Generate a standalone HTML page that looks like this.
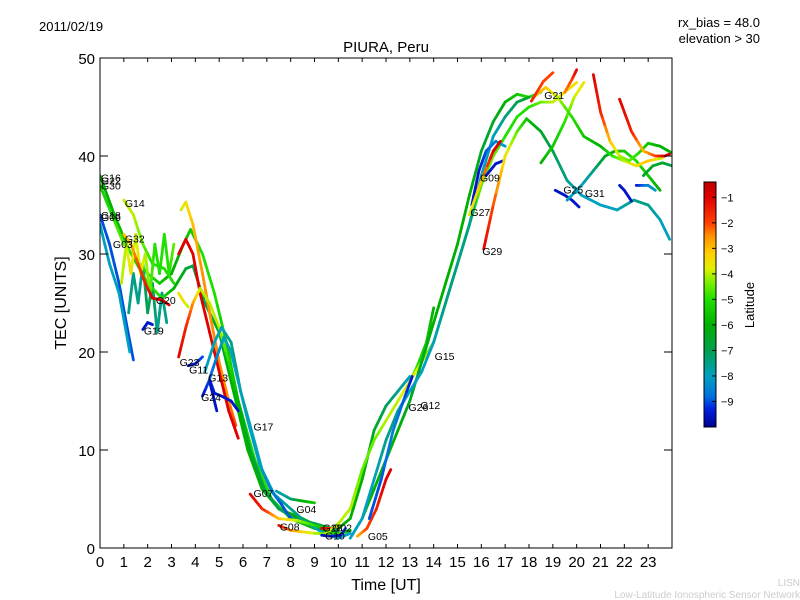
<!DOCTYPE html>
<html><head><meta charset="utf-8"><style>
body{margin:0;background:#fff;}
svg{display:block;font-family:"Liberation Sans","DejaVu Sans",sans-serif;}
</style></head><body>
<svg id="chart" width="800" height="600" viewBox="0 0 800 600">
<defs>
<linearGradient id="jetg" x1="0" y1="0" x2="0" y2="1">
<stop offset="0" stop-color="#c00000"/><stop offset="0.0625" stop-color="#e00000"/><stop offset="0.167" stop-color="#ff4000"/>
<stop offset="0.219" stop-color="#ff9000"/><stop offset="0.292" stop-color="#ffd000"/><stop offset="0.354" stop-color="#e0f000"/>
<stop offset="0.406" stop-color="#80f000"/><stop offset="0.479" stop-color="#20e000"/><stop offset="0.583" stop-color="#00b000"/>
<stop offset="0.688" stop-color="#00a050"/><stop offset="0.792" stop-color="#00a0c0"/><stop offset="0.875" stop-color="#0070e0"/>
<stop offset="0.927" stop-color="#0020e0"/><stop offset="1" stop-color="#000090"/>
</linearGradient>
<clipPath id="pc"><rect x="100" y="58" width="572" height="490"/></clipPath>
</defs>
<rect x="0" y="0" width="800" height="600" fill="#fff"/>
<text x="39" y="31" font-size="13">2011/02/19</text>
<text x="760" y="27" font-size="13" text-anchor="end">rx_bias = 48.0</text>
<text x="760" y="43" font-size="13" text-anchor="end">elevation &gt; 30</text>
<text x="386" y="52" font-size="15" text-anchor="middle">PIURA, Peru</text>
<g id="marks" clip-path="url(#pc)"></g>
<g id="labels"></g>
<rect x="100" y="58" width="572" height="490" fill="none" stroke="#000" stroke-width="1"/>
<g id="axes"></g>
<text x="386" y="590" font-size="16" text-anchor="middle">Time [UT]</text>
<text x="66" y="303" font-size="16" text-anchor="middle" transform="rotate(-90 66 303)">TEC [UNITS]</text>
<g>
<rect x="704" y="182" width="12" height="245" fill="url(#jetg)" stroke="#000" stroke-width="1"/>
<g id="cbticks"></g>
<text x="754" y="305" font-size="13" text-anchor="middle" transform="rotate(-90 754 305)">Latitude</text>
</g>
<text x="800" y="586" font-size="10" fill="#ccc" text-anchor="end">LISN</text>
<text x="800" y="598" font-size="10" fill="#ccc" text-anchor="end">Low-Latitude Ionospheric Sensor Network</text>
</svg>
<script>
const xTicks=[0,1,2,3,4,5,6,7,8,9,10,11,12,13,14,15,16,17,18,19,20,21,22,23];
const yTicks=[0,10,20,30,40,50];
const cbTicks=[-1,-2,-3,-4,-5,-6,-7,-8,-9];
const latMin=-10, latMax=-0.4;
// colormap stops [latitude, r, g, b]
const cmapLat=[-10,-9.3,-8.8,-8,-7,-6,-5,-4.3,-3.8,-3.2,-2.5,-2,-1,-0.4];
const cmapRGB=[[0,0,144],[0,32,224],[0,112,224],[0,160,192],[0,160,80],[0,176,0],[32,224,0],[128,240,0],[224,240,0],[255,208,0],[255,144,0],[255,64,0],[224,0,0],[192,0,0]];
// tracks: arrays of [hour, TEC, latitude]
const trackG16=[[0,38,-6],[0.6,34,-6],[1.2,30.5,-5.5],[2,27,-5],[2.6,25.5,-5],[3.1,26.5,-6],[3.6,28.5,-6.5],[3.9,28.8,-7],[4.4,25,-7],[5,22,-6.5],[5.6,16,-6],[6.2,10,-6],[6.8,6,-6],[7.5,4,-6],[8.5,3,-6],[9.3,2,-6]];
const trackG30=[[0,37,-5.5],[0.5,34,-5],[1,31,-4.5],[1.5,29.5,-5],[2,28,-5],[2.5,27,-5.5],[3,28,-6],[3.5,31,-6],[3.8,32.5,-5.5],[4.3,30,-5],[4.8,26,-5],[5.3,21,-5.5],[5.8,15,-5.5],[6.5,9,-5],[7.2,5,-5],[8,3,-5.5],[9,2,-6],[10,1.5,-6]];
const trackYellow=[[3.4,34.5,-4],[3.6,35.3,-3.5],[3.9,33,-3],[4.3,28,-2.5],[4.6,24,-2.5],[5,19,-2.5],[5.4,15,-2.5],[5.7,12.5,-2]];
const trackRed=[[3.3,30,-1],[3.6,31.5,-1],[3.9,30,-1],[4.2,26,-1],[4.6,22,-1],[5,18,-1],[5.4,14,-1],[5.8,11.2,-1]];
const trackG23=[[3.3,19.5,-1],[3.6,22.5,-1.5],[3.9,25,-2.5],[4.2,26.5,-4],[4.6,25,-4],[5,22.5,-4],[5.4,19,-5],[5.8,15,-6],[6.3,10,-6.5],[6.9,6,-7],[7.5,4,-7],[8.2,3,-7],[9,2.5,-7],[10,1.8,-7]];
const trackG06=[[0,34,-9],[0.4,31,-9],[0.8,27,-9],[1.1,23,-9],[1.4,19.2,-9]];
const trackCyan0=[[0,33,-8],[0.4,29,-8],[0.8,26,-8],[1.1,22,-8],[1.25,20,-8]];
const trackG14=[[1,35.5,-4],[1.4,34,-4],[1.8,31,-4.5],[2.2,29,-5],[2.7,28.5,-5],[3.1,27,-5]];
const trackG32=[[1,32,-3],[1.3,31,-3],[1.6,29,-2],[1.9,27,-1.5],[2.2,25.5,-1],[2.6,25.3,-1],[2.9,24.8,-1]];
const trackNoisy1=[[0.9,27,-4],[1.1,31,-4],[1.3,28,-3.5],[1.5,32,-4],[1.7,28,-3.5],[1.9,30,-4],[2.1,26,-4.5],[2.3,31,-5],[2.5,28,-5],[2.7,32,-5],[2.9,28,-5],[3.1,31,-4.5]];
const trackNoisy2=[[1.2,24,-7.5],[1.4,28,-7.5],[1.6,25,-7.5],[1.8,29,-7.5],[2,24,-7],[2.2,27,-7],[2.4,22,-7.5],[2.6,26,-7.5],[2.8,23,-7.5]];
const trackG20=[[3.3,26,-3.5],[3.5,25.2,-3.5],[3.7,24.6,-4]];
const trackG19=[[1.8,22.3,-9.5],[2,23,-9.5],[2.2,22.8,-9.5]];
const trackG11=[[3.7,18.6,-9.5],[4,18.8,-9.5],[4.3,19.5,-9]];
const trackG13=[[4.6,17.3,-9],[4.9,19.5,-8.5],[5.2,21.5,-8],[5.5,20,-8],[5.8,17,-8],[6.2,13,-8],[6.7,8.5,-8],[7.2,5.8,-8.5],[7.6,4.5,-9],[8,3,-9]];
const trackG24=[[4.3,15.5,-9.5],[4.6,17.2,-9],[4.8,15.8,-9.5],[5.1,15.5,-9.5],[5.5,15,-9.5],[5.8,14,-9.5]];
const trackG24b=[[4.6,17,-9.5],[4.8,15,-9.5],[4.9,14,-9.5]];
const trackCyanMid=[[4.4,18,-8],[4.8,21,-8],[5.1,22.5,-8],[5.5,21,-7.5],[5.9,16,-7],[6.3,12.5,-8],[6.8,8,-8],[7.3,5.5,-8],[8,4,-7.5],[8.7,2.5,-7.5],[9.4,1.5,-8],[10,1,-8],[10.5,1.5,-8]];
const trackG07=[[6.3,5.5,-1],[6.8,4,-1.5],[7.5,3,-3],[8.3,2.8,-4],[9,2.3,-5],[9.6,2,-6]];
const trackG04=[[7.4,5.8,-8],[8,5,-7.5],[8.5,4.8,-6],[9,4.6,-5.5]];
const trackG08=[[7.5,2.3,-1],[8,1.8,-2.5],[9,1.5,-4],[10,1.4,-5],[10.5,1.8,-6]];
const trackG28=[[9.3,2,-1],[9.7,2,-1.5],[10,2.3,-2.5]];
const trackG10=[[9.3,1.3,-9.5],[9.7,1.2,-9.5],[10.1,1.3,-9.5],[10.3,2,-9]];
const trackRise1=[[10,2,-6],[10.5,3,-6],[11,7,-6],[11.5,12,-6.5],[12,14.5,-7],[12.5,16,-7.5],[13,17.5,-8]];
const trackG15=[[12.9,16.5,-4],[13.3,18.5,-5],[13.7,21,-5.5],[14,24.5,-6]];
const trackRise2=[[9.5,1.5,-4],[10,2.5,-4],[10.5,4,-4],[11,8,-4.5],[11.5,11,-4.5],[12,13,-4],[12.5,15,-4],[13,17,-3.5],[13.5,19,-4],[14,21,-4.5],[14.5,25,-5],[15,29,-5],[15.5,33,-5],[16,37,-4.5],[16.5,40,-4.5],[17,42,-5],[17.5,44,-5],[18,45,-5],[18.5,45.5,-4.5],[19,45.5,-4],[19.5,46.5,-3.5],[20,47.5,-3.5]];
const trackG21=[[11,3,-6],[11.5,6,-6],[12,9,-6],[12.5,12,-6],[13,15,-6.5],[13.5,19,-6.5],[14,23,-6],[14.5,27,-6],[15,31,-6],[15.5,36,-6],[16,40.5,-6.5],[16.5,43.5,-6.5],[17,45.5,-6],[17.5,46.3,-5.5],[18,46,-5],[18.5,46.5,-5]];
const trackCyanRise=[[10.5,1,-8],[11,3,-8],[11.5,7,-8],[12,11,-7.5],[12.5,14,-7.5],[13,16,-8],[13.5,18,-8],[14,21,-8],[14.5,25,-7.5],[15,29,-7.5],[15.5,33,-7.5],[16,38,-8],[16.5,42,-8],[17,44,-7.5],[17.5,45.5,-7],[18,46,-6.5]];
const trackG05=[[10.8,1.2,-3],[11.2,2,-2],[11.6,4,-1.5],[12,7,-1],[12.2,8,-1]];
const trackG26=[[11.3,3,-9],[11.8,7,-9],[12.3,12,-8.5],[12.8,15.5,-9],[13.1,17.5,-9.5]];
const trackG09=[[15.6,35,-9.5],[15.9,38.5,-9.5],[16.2,40.5,-9],[16.6,41.5,-8.5],[17,41,-8]];
const trackG09b=[[16.2,38,-9.5],[16.6,39.2,-9.5],[16.9,39.5,-9.5]];
const trackG29=[[16.1,30.5,-1],[16.5,35,-2],[17,40,-3.5],[17.5,42.5,-4.5],[17.9,43.8,-5.5],[18.5,42.5,-6.5],[19,40.5,-7],[19.6,37.5,-7.5],[20.2,36,-8],[21,35,-8],[21.7,34.5,-8],[22.4,35.5,-7.5],[23,35,-7.5],[23.5,33.5,-8],[23.9,31.5,-8]];
const trackG27=[[15.5,34,-4],[16,37.5,-3],[16.5,40.5,-1],[16.8,41.5,-1]];
const trackG25=[[19.1,36.5,-9.5],[19.5,36,-9.5],[19.8,35.5,-9.5],[20.1,34.8,-9.5]];
const trackG31=[[19.6,35.5,-8],[20.2,37,-8],[20.7,38.5,-7.5],[21.2,40,-6.5],[21.6,40.5,-6],[22,40.5,-5.5],[22.5,39.5,-5],[23,38,-5.5],[23.5,36.5,-6]];
const trackRiseYG=[[18.5,39.3,-6],[19,41,-5.5],[19.5,43.5,-5],[19.9,46,-4],[20.3,47.5,-3.5]];
const trackRedTop1=[[20.7,48.3,-1],[21,44.5,-1.5],[21.4,41.5,-3],[21.8,40,-4],[22.2,39.5,-4.5],[22.6,40.3,-5],[23,41.3,-5.5],[23.5,41,-6],[24,40.3,-6]];
const trackRedTop2=[[21.8,45.8,-1],[22.3,42.5,-1.5],[22.8,40.5,-3],[23.3,40,-2],[23.7,40,-1],[23.9,40.2,-1]];
const trackYellowTop=[[18.2,46,-3],[18.7,47,-3],[19.2,46,-4],[19.8,44,-5],[20.3,42,-5.5],[21,41,-6],[21.5,40,-5],[22,39.5,-4],[22.5,39,-3.5],[23,39.5,-3],[23.6,39.8,-4]];
const trackRedPeak=[[18.1,45.6,-1.5],[18.6,47.6,-2],[19,48.5,-2]];
const trackRedPeak2=[[19.5,46.5,-2.5],[19.8,47.8,-2],[20,48.8,-1]];
const trackBlueLate=[[21.8,37,-9.5],[22,36.5,-9.5],[22.3,35.4,-9.5]];
const trackBlueLate2=[[22.5,37,-9.5],[23,37,-8.5],[23.3,36.5,-8]];
const trackGreenLate=[[22.8,38,-6.5],[23.2,39,-6.5],[23.6,39.3,-6.5],[24,39,-7]];
const tracks=[trackG06,trackCyan0,trackNoisy2,trackG16,trackG30,trackG14,trackNoisy1,trackG32,trackYellow,trackRed,trackG23,trackG20,trackG19,trackG11,trackCyanMid,trackG13,trackG24,trackG24b,trackG07,trackG04,trackG08,trackG28,trackG10,trackRise1,trackG15,trackRise2,trackG21,trackCyanRise,trackG05,trackG26,trackG09,trackG09b,trackG29,trackG27,trackG25,trackG31,trackRiseYG,trackYellowTop,trackRedTop1,trackRedTop2,trackRedPeak,trackRedPeak2,trackBlueLate,trackBlueLate2,trackGreenLate];
const satNames=["G16","G22","G30","G18","G06","G03","G32","G14","G20","G19","G23","G11","G13","G24","G17","G07","G04","G08","G28","G02","G10","G05","G26","G12","G15","G27","G09","G29","G21","G25","G31"];
const satHours=[0,0,0,0,0,0.5,1,1,2.3,1.8,3.3,3.7,4.5,4.2,6.4,6.4,8.2,7.5,9.3,9.7,9.4,11.2,12.9,13.4,14,15.5,15.9,16,18.6,19.4,20.3];
const satTec=[37.8,37.5,37,34,33.8,31,31.6,35.2,25.3,22.2,19,18.2,17.4,15.4,12.4,5.6,4,2.2,2.1,2.1,1.3,1.2,14.4,14.6,19.6,34.3,37.8,30.3,46.2,36.6,36.2];
const NS="http://www.w3.org/2000/svg";
const X=t=>100+t*572/24, Y=v=>548-v*9.8;
const CB=l=>182+(latMax-l)/(latMax-latMin)*245;
function cmap(l){
 l=Math.max(latMin,Math.min(latMax,l));
 let i=0;while(i<cmapLat.length-2&&l>cmapLat[i+1])i++;
 const f=Math.max(0,Math.min(1,(l-cmapLat[i])/(cmapLat[i+1]-cmapLat[i])));
 const a=cmapRGB[i],b=cmapRGB[i+1];
 return `rgb(${Math.round(a[0]+(b[0]-a[0])*f)},${Math.round(a[1]+(b[1]-a[1])*f)},${Math.round(a[2]+(b[2]-a[2])*f)})`;
}
const marks=document.getElementById('marks');
tracks.forEach((tr,i)=>{
 const g=document.createElementNS(NS,'g');
 
 
 for(let k=0;k<tr.length-1;k++){
  const a=tr[k],b=tr[k+1];
  for(let s=0;s<4;s++){
   const f0=s/4,f1=(s+1)/4;
   const ln=document.createElementNS(NS,'line');
   ln.setAttribute('x1',X(a[0]+(b[0]-a[0])*f0));ln.setAttribute('y1',Y(a[1]+(b[1]-a[1])*f0));
   ln.setAttribute('x2',X(a[0]+(b[0]-a[0])*f1));ln.setAttribute('y2',Y(a[1]+(b[1]-a[1])*f1));
   ln.setAttribute('stroke',cmap(a[2]+(b[2]-a[2])*(f0+f1)/2));
   ln.setAttribute('stroke-width','2.8');ln.setAttribute('stroke-linecap','round');
   
   
   g.appendChild(ln);
  }
 }
 marks.appendChild(g);
});
const labels=document.getElementById('labels');
satNames.forEach((n,i)=>{
 const t=document.createElementNS(NS,'text');
 t.setAttribute('x',X(satHours[i])+1);t.setAttribute('y',Y(satTec[i])+4);
 t.setAttribute('font-size','10.5');t.textContent=n;
 
 
 labels.appendChild(t);
});
const axes=document.getElementById('axes');
function add(tag,attrs,txt){const e=document.createElementNS(NS,tag);for(const k in attrs)e.setAttribute(k,attrs[k]);if(txt!==undefined)e.textContent=txt;axes.appendChild(e);return e;}
xTicks.forEach(t=>{
 const x=X(t);
 const a=add('line',{x1:x,y1:548,x2:x,y2:544,stroke:'#000'});
 
 const b=add('line',{x1:x,y1:58,x2:x,y2:62,stroke:'#000'});
 
 const l=add('text',{x:x,y:567,'font-size':'15','text-anchor':'middle'},String(t));
 
});
yTicks.forEach(v=>{
 const y=Y(v);
 const a=add('line',{x1:100,y1:y,x2:108,y2:y,stroke:'#000'});
 
 const b=add('line',{x1:672,y1:y,x2:664,y2:y,stroke:'#000'});
 
 const l=add('text',{x:95,y:y+6,'font-size':'15','text-anchor':'end'},String(v));
 
});
const cbt=document.getElementById('cbticks');
cbTicks.forEach(v=>{
 const y=CB(v);
 const ln=document.createElementNS(NS,'line');
 ln.setAttribute('x1',712);ln.setAttribute('x2',716);ln.setAttribute('y1',y);ln.setAttribute('y2',y);ln.setAttribute('stroke','#000');
 
 
 cbt.appendChild(ln);
 const t=document.createElementNS(NS,'text');
 t.setAttribute('x',721);t.setAttribute('y',y+4);t.setAttribute('font-size','11');t.textContent='\u2212'+Math.abs(v);
 
 
 cbt.appendChild(t);
});
</script>
</body></html>
